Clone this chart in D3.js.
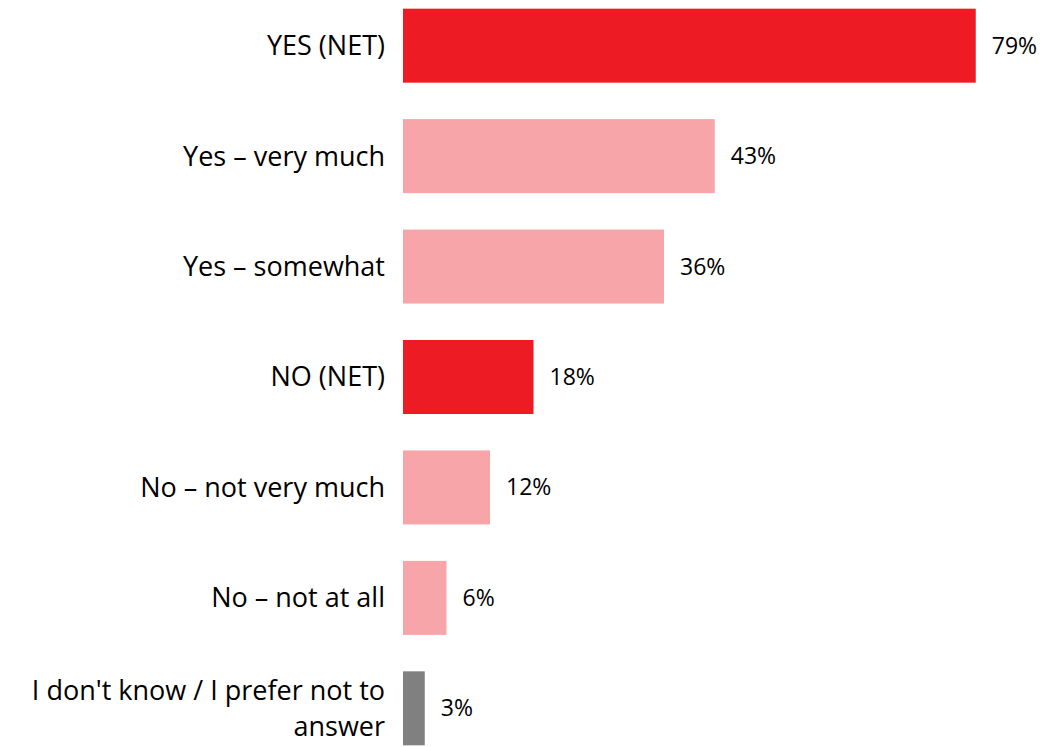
<!DOCTYPE html>
<html>
<head>
<meta charset="utf-8">
<script src="https://cdn.jsdelivr.net/npm/d3@7"></script>
<style>
  body { margin: 0; background: white; }
  text { font-family: "Open Sans", "Liberation Sans", sans-serif; fill: #000; }
</style>
</head>
<body>
<script>
// data
let categories = ["YES (NET)", "Yes – very much", "Yes – somewhat", "NO (NET)", "No – not very much", "No – not at all", "I don't know / I prefer not to answer"]
let values = [79, 43, 36, 18, 12, 6, 3]
let kinds = ["net", "sub", "sub", "net", "sub", "sub", "dk"]

let colors = { net: "#ED1C24", sub: "#F7A5A8", dk: "#808080" }

let width = 1044, height = 747

let svg = d3.select('body')
    .append('svg')
    .attr('width', width)
    .attr('height', height)

let x = d3.scaleLinear()
    .domain([0, 100])
    .range([403, 1128])

let y = d3.scaleBand()
    .domain(categories)
    .range([-9, 763])
    .paddingInner(0.33)
    .paddingOuter(0.16)

let rows = categories.map((c, i) => ({ cat: c, value: values[i], kind: kinds[i] }))

svg.selectAll('rect.bar')
    .data(rows)
    .enter()
    .append('rect')
    .attr('class', 'bar')
    .attr('x', x(0))
    .attr('y', d => y(d.cat))
    .attr('width', d => x(d.value) - x(0))
    .attr('height', y.bandwidth())
    .style('fill', d => colors[d.kind])

// value labels
svg.selectAll('text.val')
    .data(rows)
    .enter()
    .append('text')
    .attr('class', 'val')
    .attr('x', d => x(d.value) + 16)
    .attr('y', d => y(d.cat) + y.bandwidth() / 2)
    .attr('dy', '0.35em')
    .style('font-size', '23px')
    .text(d => d.value + '%')

// category labels, last one wraps
let lab = svg.selectAll('text.cat')
    .data(rows)
    .enter()
    .append('text')
    .attr('class', 'cat')
    .attr('x', x(0) - 18)
    .attr('y', d => y(d.cat) + y.bandwidth() / 2)
    .attr('text-anchor', 'end')
    .style('font-size', '27px')

lab.each(function(d) {
    let t = d3.select(this)
    if (d.kind === 'dk') {
        t.append('tspan').attr('x', x(0) - 18).attr('dy', '-0.32em').text("I don't know / I prefer not to")
        t.append('tspan').attr('x', x(0) - 18).attr('dy', '1.36em').text("answer")
    } else {
        t.attr('dy', '0.35em').text(d.cat)
    }
})
</script>
</body>
</html>
